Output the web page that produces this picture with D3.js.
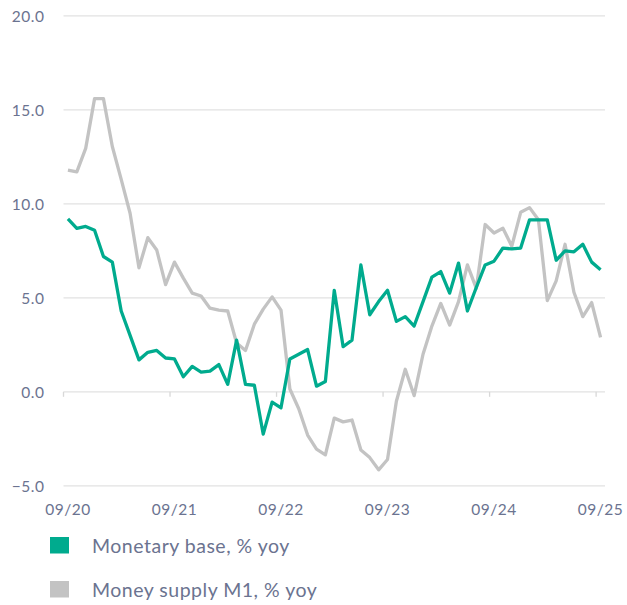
<!DOCTYPE html>
<html>
<head>
<meta charset="utf-8">
<script src="https://cdn.jsdelivr.net/npm/d3@7"></script>
<style>
  html, body { margin: 0; padding: 0; background: #fff; }
  svg { display: block; }
  text { font-family: Lato, "Open Sans", sans-serif; fill: #6b7390; letter-spacing: 0.5px; }
</style>
</head>
<body>
<svg id="chart" width="627" height="605"></svg>
<script>
// Month index 0 = 09/2020 ... 60 = 09/2025
const xTickLabels = ["09/20", "09/21", "09/22", "09/23", "09/24", "09/25"];
const yTicks = [-5, 0, 5, 10, 15, 20];
const seriesNames = ["Monetary base, % yoy", "Money supply M1, % yoy"];
const seriesColors = ["#00ab8e", "#c3c3c3"];

const monetaryBase = [
  9.2, 8.7, 8.8, 8.6, 7.2, 6.9, 4.3, 3.0, 1.7, 2.1,
  2.2, 1.8, 1.75, 0.8, 1.35, 1.05, 1.1, 1.45, 0.4, 2.75,
  0.4, 0.35, -2.25, -0.55, -0.85, 1.75, 2.0, 2.25, 0.3, 0.55,
  5.4, 2.4, 2.75, 6.75, 4.1, 4.8, 5.4, 3.75, 4.0, 3.5,
  4.8, 6.1, 6.4, 5.25, 6.85, 4.3, 5.55, 6.75, 6.95, 7.65,
  7.6, 7.65, 9.15, 9.15, 9.15, 7.0, 7.5, 7.45, 7.85, 6.9,
  6.5
];
const moneySupplyM1 = [
  11.8, 11.7, 12.95, 15.6, 15.6, 13.05, 11.3, 9.5, 6.6, 8.2,
  7.55, 5.7, 6.9, 6.05, 5.25, 5.1, 4.45, 4.35, 4.3, 2.6,
  2.2, 3.6, 4.4, 5.05, 4.35, 0.15, -0.9, -2.3, -3.05, -3.35,
  -1.4, -1.6, -1.5, -3.1, -3.5, -4.15, -3.6, -0.5, 1.2, -0.2,
  2.0, 3.5, 4.7, 3.55, 4.8, 6.75, 5.5, 8.9, 8.45, 8.7,
  7.75, 9.55, 9.8, 9.15, 4.85, 5.9, 7.85, 5.3, 4.0, 4.75,
  2.9
];

const svg = d3.select("#chart");
const x = d3.scaleLinear().domain([0, 61]).range([63.5, 605]);
const y = d3.scaleLinear().domain([-5, 20]).range([485.8, 15.9]);

// gridlines
svg.append("g").selectAll("line").data(yTicks).join("line")
  .attr("x1", x(0)).attr("x2", x(61))
  .attr("y1", d => y(d)).attr("y2", d => y(d))
  .attr("stroke", "#e2e2e2").attr("stroke-width", 1.3);

// y labels
svg.append("g").selectAll("text").data(yTicks).join("text")
  .attr("x", 44.5).attr("y", d => y(d))
  .attr("text-anchor", "end").attr("dominant-baseline", "central")
  .attr("font-size", 15.5)
  .text(d => d3.format(".1f")(d));

// x ticks on zero line
const tickMonths = xTickLabels.map((_, i) => i * 12);
svg.append("g").selectAll("line").data(tickMonths).join("line")
  .attr("x1", d => x(d)).attr("x2", d => x(d))
  .attr("y1", y(0)).attr("y2", y(0) + 5)
  .attr("stroke", "#d8d8d8").attr("stroke-width", 1.3);

// x labels
svg.append("g").selectAll("text").data(xTickLabels).join("text")
  .attr("x", (d, i) => x(i * 12 + 0.5)).attr("y", 515)
  .attr("text-anchor", "middle")
  .attr("font-size", 15.5)
  .text(d => d);

// lines
const line = d3.line().x((d, i) => x(i + 0.5)).y(d => y(d));
[moneySupplyM1, monetaryBase].forEach((s, k) => {
  const color = k === 0 ? seriesColors[1] : seriesColors[0];
  svg.append("path").datum(s)
    .attr("d", line)
    .attr("fill", "none")
    .attr("stroke", color)
    .attr("stroke-width", 3.3)
    .attr("stroke-linejoin", "round")
    .attr("stroke-linecap", "butt");
});

// legend
const legend = svg.append("g");
seriesNames.forEach((name, i) => {
  const yy = 537 + i * 44;
  legend.append("rect").attr("x", 50).attr("y", yy).attr("width", 19).attr("height", 16.5)
    .attr("fill", seriesColors[i]);
  legend.append("text").attr("x", 92).attr("y", yy + 16.3)
    .attr("font-size", 19.5)
    .text(name);
});
</script>
</body>
</html>
